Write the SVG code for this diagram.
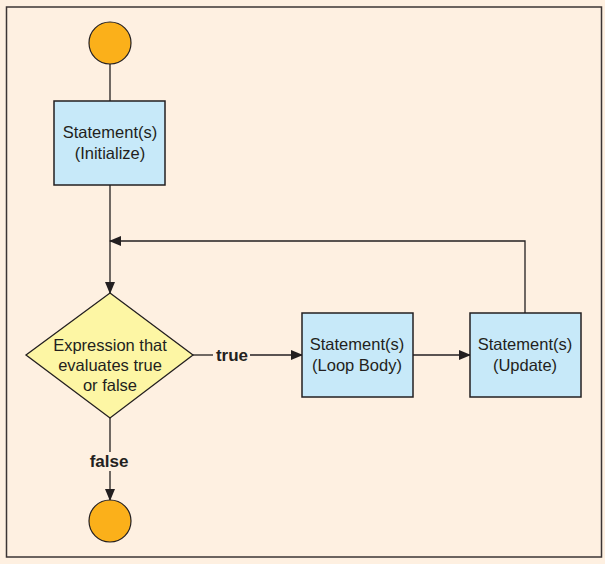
<svg xmlns="http://www.w3.org/2000/svg" width="605" height="564" viewBox="0 0 605 564">
<style>
.t{font-family:"Liberation Sans",Arial,sans-serif;font-size:16.5px;fill:#231f20;text-anchor:middle}
.b{font-family:"Liberation Sans",Arial,sans-serif;font-size:17px;font-weight:bold;fill:#231f20;text-anchor:middle}
.box{fill:#c7e9f9;stroke:#231f20;stroke-width:1.5}
.circ{fill:#fbb01a;stroke:#231f20;stroke-width:1.2}
.ln{fill:none;stroke:#231f20;stroke-width:1.3}
</style>
<defs>
<marker id="ah" markerWidth="12" markerHeight="10" refX="11" refY="5" orient="auto" markerUnits="userSpaceOnUse">
<path d="M0,0 L12,5 L0,10 Z" fill="#231f20"/>
</marker>
</defs>
<rect x="0" y="0" width="605" height="564" fill="#fef0e1"/>
<rect x="6.5" y="7" width="595" height="550" fill="#fef0e1" stroke="#3b3434" stroke-width="1.5"/>
<g id="connectors">
<line class="ln" x1="110" y1="64" x2="110" y2="101"/>
<line class="ln" x1="110" y1="185" x2="110" y2="293" marker-end="url(#ah)"/>
<polyline class="ln" points="525,313 525,241 110,241" marker-end="url(#ah)"/>
<line class="ln" x1="193" y1="355" x2="213" y2="355"/>
<line class="ln" x1="250" y1="355" x2="302" y2="355" marker-end="url(#ah)"/>
<line class="ln" x1="413" y1="355" x2="470" y2="355" marker-end="url(#ah)"/>
<line class="ln" x1="110" y1="418" x2="110" y2="452"/>
<line class="ln" x1="110" y1="471" x2="110" y2="500" marker-end="url(#ah)"/>
<text class="b" x="232" y="361">true</text>
<text class="b" x="109" y="467">false</text>
</g>
<g id="start"><circle class="circ" cx="110" cy="43" r="21"/></g>
<g id="init">
<rect class="box" x="54" y="101" width="111" height="84"/>
<text class="t" x="110" y="138">Statement(s)</text>
<text class="t" x="110" y="159">(Initialize)</text>
</g>
<g id="cond">
<polygon points="110,293 193,355 110,418 26,355" fill="#fdf6a4" stroke="#231f20" stroke-width="1.3"/>
<text class="t" x="110" y="351">Expression that</text>
<text class="t" x="110" y="371">evaluates true</text>
<text class="t" x="110" y="391">or false</text>
</g>
<g id="body">
<rect class="box" x="302" y="313" width="111" height="84"/>
<text class="t" x="357" y="350">Statement(s)</text>
<text class="t" x="357" y="371">(Loop Body)</text>
</g>
<g id="update">
<rect class="box" x="470" y="313" width="111" height="84"/>
<text class="t" x="525" y="350">Statement(s)</text>
<text class="t" x="525" y="371">(Update)</text>
</g>
<g id="end"><circle class="circ" cx="110" cy="521" r="21"/></g>
</svg>
